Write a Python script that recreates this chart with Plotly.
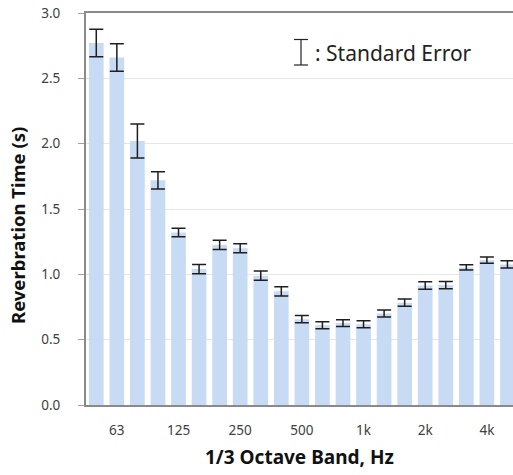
import plotly.graph_objects as go

bands = ["50", "63", "80", "100", "125", "160", "200", "250", "315", "400", "500",
         "630", "800", "1k", "1.25k", "1.6k", "2k", "2.5k", "3.15k", "4k", "5k"]
rt_values = [2.77, 2.66, 2.02, 1.72, 1.32, 1.04, 1.225, 1.20, 0.99, 0.87, 0.657,
             0.61, 0.627, 0.618, 0.70, 0.783, 0.914, 0.918, 1.053, 1.108, 1.076]
std_err = [0.105, 0.105, 0.13, 0.066, 0.032, 0.035, 0.035, 0.035, 0.035, 0.035, 0.027,
           0.027, 0.026, 0.027, 0.027, 0.028, 0.029, 0.028, 0.02, 0.024, 0.028]
tick_bands = bands[1::3]
tick_labels = ["63", "125", "250", "500", "1k", "2k", "4k"]
y_ticks = [0.0, 0.5, 1.0, 1.5, 2.0, 2.5, 3.0]

FONT = "Noto Sans, Liberation Sans, sans-serif"

fig = go.Figure()
fig.add_trace(go.Bar(
    x=bands, y=rt_values,
    marker=dict(color="#c8dbf4", line=dict(width=0)),
    error_y=dict(type="data", array=std_err, visible=True,
                 color="#1e1e1e", thickness=1.5, width=7),
    showlegend=False,
))

fig.update_layout(
    width=513, height=475,
    margin=dict(l=86, r=0, t=13, b=70),
    paper_bgcolor="white", plot_bgcolor="white",
    bargap=0.285,
    font=dict(family=FONT, color="#404040"),
    xaxis=dict(
        type="category", categoryorder="array", categoryarray=bands,
        range=[-0.5, 20.27],
        tickvals=tick_bands, ticktext=tick_labels,
        ticks="", showgrid=False,
        showline=True, linecolor="#8a8a8a", linewidth=2, mirror=True,
        tickfont=dict(size=13.5, color="#404040"),
        ticklabelstandoff=12,
    ),
    yaxis=dict(
        range=[0, 3.0], tickvals=y_ticks,
        ticktext=[f"{v:.1f}" for v in y_ticks],
        ticks="outside", ticklen=6, tickcolor="#a0a0a0", tickwidth=1,
        showgrid=True, gridcolor="#e6e6e6", gridwidth=1,
        showline=True, linecolor="#8a8a8a", linewidth=2,
        tickfont=dict(size=13.5, color="#404040"),
        ticklabelstandoff=15,
        zeroline=False,
    ),
    annotations=[
        dict(text="<b>1/3 Octave Band, Hz</b>", xref="paper", yref="paper",
             x=0.5, y=0, yshift=-52, xanchor="center", yanchor="middle",
             showarrow=False, font=dict(size=19, color="#111111", family=FONT)),
        dict(text="<b>Reverbration Time (s)</b>", xref="paper", yref="paper",
             x=0, xshift=-69, y=(405 - 226) / 392, xanchor="center", yanchor="middle",
             textangle=-90, showarrow=False,
             font=dict(size=18.5, color="#111111", family=FONT)),
        dict(text=": Standard Error", xref="paper", yref="paper",
             x=(313 - 86) / 427, y=(405 - 53) / 392, xanchor="left", yanchor="middle",
             showarrow=False, font=dict(size=21, color="#222222", family=FONT)),
    ],
)

# legend glyph for the standard error symbol
px_x = lambda p: (p - 86) / 427
px_y = lambda p: (405 - p) / 392
for (x0, y0, x1, y1) in [(301, 39.5, 301, 65), (294, 39.5, 308, 39.5), (294, 65, 308, 65)]:
    fig.add_shape(type="line", xref="paper", yref="paper",
                  x0=px_x(x0), y0=px_y(y0), x1=px_x(x1), y1=px_y(y1),
                  line=dict(color="#222222", width=1.2))

fig.write_html("out.html")
